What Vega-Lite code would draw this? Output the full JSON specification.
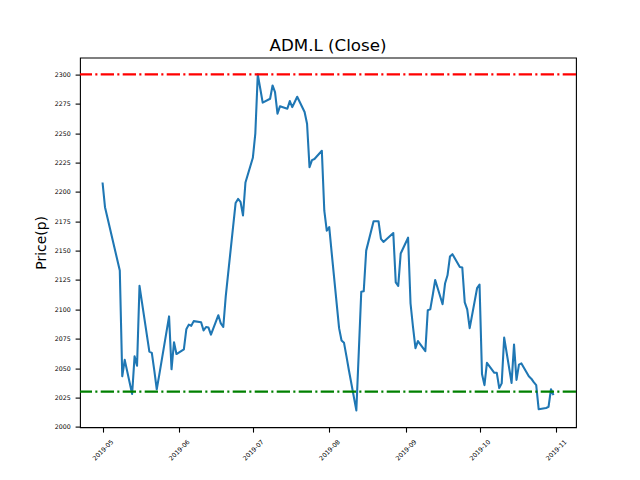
{
  "$schema": "https://vega.github.io/schema/vega-lite/v6.json",
  "autosize": {"type": "none"},
  "padding": {"left": 80, "top": 57.6, "right": 64, "bottom": 52.8},
  "width": 496,
  "height": 369.6,
  "background": "white",
  "config": {
    "font": "DejaVu Sans",
    "view": {"stroke": "black", "strokeWidth": 1.1},
    "axis": {"grid": false, "domain": false, "tickColor": "black", "tickWidth": 1.1, "tickSize": 4.9, "labelColor": "black", "labelFont": "DejaVu Sans", "labelFontSize": 6.3, "titleFont": "DejaVu Sans", "titleFontWeight": "normal", "titleColor": "black", "labelOverlap": false, "labelSeparation": 0}
  },
  "title": {"text": "ADM.L (Close)", "fontSize": 16.7, "fontWeight": "normal", "font": "DejaVu Sans", "color": "black", "baseline": "alphabetic", "frame": "group", "offset": -9.7, "anchor": "middle"},
  "encoding": {
    "y": {
      "field": "close", "type": "quantitative", "title": "Price(p)",
      "scale": {"domain": [1999.7, 2314.3], "zero": false, "nice": false},
      "axis": {
        "values": [2000, 2025, 2050, 2075, 2100, 2125, 2150, 2175, 2200, 2225, 2250, 2275, 2300],
        "labelExpr": "format(datum.value, 'd')", "labelPadding": 4.9, "titleFontSize": 13.9, "titlePadding": 5.6, "labelOverlap": false, "labelFlush": false
      }
    }
  },
  "layer": [
    {
      "data": {"values": [
        {"date": "2019-05-01", "close": 2208}, {"date": "2019-05-02", "close": 2187}, {"date": "2019-05-03", "close": 2178}, {"date": "2019-05-07", "close": 2142}, {"date": "2019-05-08", "close": 2133}, {"date": "2019-05-09", "close": 2043}, {"date": "2019-05-10", "close": 2057}, {"date": "2019-05-13", "close": 2028}, {"date": "2019-05-14", "close": 2060}, {"date": "2019-05-15", "close": 2052}, {"date": "2019-05-16", "close": 2120}, {"date": "2019-05-17", "close": 2106}, {"date": "2019-05-20", "close": 2064}, {"date": "2019-05-21", "close": 2063}, {"date": "2019-05-22", "close": 2048}, {"date": "2019-05-23", "close": 2032}, {"date": "2019-05-24", "close": 2044}, {"date": "2019-05-28", "close": 2094}, {"date": "2019-05-29", "close": 2049}, {"date": "2019-05-30", "close": 2072}, {"date": "2019-05-31", "close": 2062},
        {"date": "2019-06-03", "close": 2066}, {"date": "2019-06-04", "close": 2083}, {"date": "2019-06-05", "close": 2087}, {"date": "2019-06-06", "close": 2086}, {"date": "2019-06-07", "close": 2090}, {"date": "2019-06-10", "close": 2089}, {"date": "2019-06-11", "close": 2082}, {"date": "2019-06-12", "close": 2085}, {"date": "2019-06-13", "close": 2084.5}, {"date": "2019-06-14", "close": 2078.5}, {"date": "2019-06-17", "close": 2095}, {"date": "2019-06-18", "close": 2088}, {"date": "2019-06-19", "close": 2085}, {"date": "2019-06-20", "close": 2111}, {"date": "2019-06-21", "close": 2131}, {"date": "2019-06-24", "close": 2190.5}, {"date": "2019-06-25", "close": 2194}, {"date": "2019-06-26", "close": 2191.5}, {"date": "2019-06-27", "close": 2180}, {"date": "2019-06-28", "close": 2208},
        {"date": "2019-07-01", "close": 2229}, {"date": "2019-07-02", "close": 2249.5}, {"date": "2019-07-03", "close": 2300}, {"date": "2019-07-04", "close": 2288}, {"date": "2019-07-05", "close": 2276}, {"date": "2019-07-08", "close": 2279.3}, {"date": "2019-07-09", "close": 2290.6}, {"date": "2019-07-10", "close": 2285}, {"date": "2019-07-11", "close": 2266.6}, {"date": "2019-07-12", "close": 2272.8}, {"date": "2019-07-15", "close": 2270.8}, {"date": "2019-07-16", "close": 2277.3}, {"date": "2019-07-17", "close": 2272.2}, {"date": "2019-07-18", "close": 2276.5}, {"date": "2019-07-19", "close": 2281}, {"date": "2019-07-22", "close": 2268}, {"date": "2019-07-23", "close": 2258}, {"date": "2019-07-24", "close": 2221}, {"date": "2019-07-25", "close": 2227}, {"date": "2019-07-26", "close": 2228}, {"date": "2019-07-29", "close": 2235}, {"date": "2019-07-30", "close": 2184}, {"date": "2019-07-31", "close": 2167},
        {"date": "2019-08-01", "close": 2170}, {"date": "2019-08-02", "close": 2148}, {"date": "2019-08-05", "close": 2084}, {"date": "2019-08-06", "close": 2073.5}, {"date": "2019-08-07", "close": 2071.5}, {"date": "2019-08-08", "close": 2060}, {"date": "2019-08-09", "close": 2048}, {"date": "2019-08-12", "close": 2014}, {"date": "2019-08-13", "close": 2064}, {"date": "2019-08-14", "close": 2115}, {"date": "2019-08-15", "close": 2115.4}, {"date": "2019-08-16", "close": 2150}, {"date": "2019-08-19", "close": 2175}, {"date": "2019-08-20", "close": 2175}, {"date": "2019-08-21", "close": 2175}, {"date": "2019-08-22", "close": 2160}, {"date": "2019-08-23", "close": 2157.4}, {"date": "2019-08-27", "close": 2165}, {"date": "2019-08-28", "close": 2123}, {"date": "2019-08-29", "close": 2120}, {"date": "2019-08-30", "close": 2147.5},
        {"date": "2019-09-02", "close": 2161}, {"date": "2019-09-03", "close": 2105}, {"date": "2019-09-04", "close": 2085}, {"date": "2019-09-05", "close": 2067}, {"date": "2019-09-06", "close": 2073}, {"date": "2019-09-09", "close": 2064.5}, {"date": "2019-09-10", "close": 2099.3}, {"date": "2019-09-11", "close": 2100}, {"date": "2019-09-12", "close": 2112}, {"date": "2019-09-13", "close": 2125}, {"date": "2019-09-16", "close": 2104.4}, {"date": "2019-09-17", "close": 2122}, {"date": "2019-09-18", "close": 2129}, {"date": "2019-09-19", "close": 2145}, {"date": "2019-09-20", "close": 2147}, {"date": "2019-09-23", "close": 2136}, {"date": "2019-09-24", "close": 2135.6}, {"date": "2019-09-25", "close": 2106}, {"date": "2019-09-26", "close": 2100}, {"date": "2019-09-27", "close": 2084}, {"date": "2019-09-30", "close": 2118},
        {"date": "2019-10-01", "close": 2121}, {"date": "2019-10-02", "close": 2045}, {"date": "2019-10-03", "close": 2035.5}, {"date": "2019-10-04", "close": 2054.5}, {"date": "2019-10-07", "close": 2046}, {"date": "2019-10-08", "close": 2046}, {"date": "2019-10-09", "close": 2033}, {"date": "2019-10-10", "close": 2037}, {"date": "2019-10-11", "close": 2076}, {"date": "2019-10-14", "close": 2037.4}, {"date": "2019-10-15", "close": 2070}, {"date": "2019-10-16", "close": 2040}, {"date": "2019-10-17", "close": 2053}, {"date": "2019-10-18", "close": 2054}, {"date": "2019-10-21", "close": 2043}, {"date": "2019-10-22", "close": 2041}, {"date": "2019-10-23", "close": 2038}, {"date": "2019-10-24", "close": 2035.5}, {"date": "2019-10-25", "close": 2015}, {"date": "2019-10-28", "close": 2016}, {"date": "2019-10-29", "close": 2017}, {"date": "2019-10-30", "close": 2032}, {"date": "2019-10-31", "close": 2027}
      ]},
      "mark": {"type": "line", "color": "#1f77b4", "strokeWidth": 2.08, "strokeJoin": "round", "clip": true},
      "encoding": {
        "x": {
          "field": "date", "type": "temporal", "title": null,
          "scale": {"type": "utc", "domain": [
            {"year": 2019, "month": 4, "date": 21, "hours": 20, "minutes": 24, "utc": true},
            {"year": 2019, "month": 11, "date": 9, "hours": 3, "minutes": 36, "utc": true}
          ]},
          "axis": {
            "values": [
              {"year": 2019, "month": 5, "date": 1, "utc": true},
              {"year": 2019, "month": 6, "date": 1, "utc": true},
              {"year": 2019, "month": 7, "date": 1, "utc": true},
              {"year": 2019, "month": 8, "date": 1, "utc": true},
              {"year": 2019, "month": 9, "date": 1, "utc": true},
              {"year": 2019, "month": 10, "date": 1, "utc": true},
              {"year": 2019, "month": 11, "date": 1, "utc": true}
            ],
            "labelExpr": "utcFormat(datum.value, '%Y-%m')",
            "labelAngle": -45, "labelAlign": "center", "labelBaseline": "middle", "labelPadding": 17.6,
            "labelOverlap": false, "labelFlush": false
          }
        }
      }
    },
    {
      "data": {"values": [{"close": 2300}]},
      "mark": {"type": "rule", "color": "#ff0000", "strokeWidth": 2.08, "strokeDash": [13.3, 3.3, 2.1, 3.3]},
      "encoding": {}
    },
    {
      "data": {"values": [{"close": 2030}]},
      "mark": {"type": "rule", "color": "#008000", "strokeWidth": 2.08, "strokeDash": [13.3, 3.3, 2.1, 3.3]},
      "encoding": {}
    }
  ]
}
